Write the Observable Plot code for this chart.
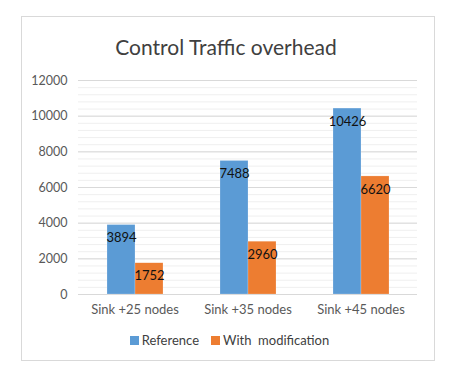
<!DOCTYPE html>
<html>
<head>
<meta charset="utf-8">
<script src="https://cdn.jsdelivr.net/npm/d3@7"></script>
<script src="https://cdn.jsdelivr.net/npm/@observablehq/plot@0.6"></script>
<style>
  body { margin: 0; background: #fff; font-family: Lato, "Open Sans", sans-serif; }
  #wrap { position: relative; width: 459px; height: 378px; }
  #frame { position: absolute; left: 21px; top: 16px; width: 412px; height: 343px; border: 1px solid #d9d9d9; }
  #title { position: absolute; left: 0; width: 452px; top: 32px; text-align: center; font-size: 21px; color: #404040; line-height: 30px; }
  #chart { position: absolute; left: 0; top: 66px; }
  #legend { position: absolute; left: 0; width: 459px; top: 331px; text-align: center; font-size: 13px; color: #404040; line-height: 18px; }
  #legend span.sw { display: inline-block; width: 9px; height: 9px; margin-right: 3px; vertical-align: 0px; }
  #legend span.item { margin: 0 6px; white-space: pre; }
</style>
</head>
<body>
<div id="wrap">
  <div id="frame"></div>
  <div id="title"></div>
  <div id="chart"></div>
  <div id="legend"></div>
</div>
<script>
const title = "Control Traffic overhead";
const categories = ["Sink +25 nodes", "Sink +35 nodes", "Sink +45 nodes"];
const seriesNames = ["Reference", "With  modification"];
const referenceValues = [3894, 7488, 10426];
const modificationValues = [1752, 2960, 6620];
const colors = ["#5B9BD5", "#ED7D31"];
const yTicks = [0, 2000, 4000, 6000, 8000, 10000, 12000];
const minorTicks = d3.range(0, 12001, 400);

const data = [];
categories.forEach((c, i) => {
  data.push({category: c, series: seriesNames[0], value: referenceValues[i]});
  data.push({category: c, series: seriesNames[1], value: modificationValues[i]});
});

document.getElementById("title").textContent = title;

const chart = Plot.plot({
  width: 459,
  height: 258,
  marginLeft: 77,
  marginRight: 41,
  marginTop: 14,
  marginBottom: 30,
  style: {fontFamily: "Lato, 'Open Sans', sans-serif", background: "transparent"},
  fx: {domain: categories, padding: 0, label: null, axis: null},
  x: {domain: seriesNames, paddingInner: 0, paddingOuter: 1, axis: null},
  y: {domain: [0, 12000], ticks: yTicks, label: null, grid: false},
  color: {domain: seriesNames, range: colors},
  marks: [
    Plot.ruleY(minorTicks, {stroke: "#efefef", strokeWidth: 1}),
    Plot.ruleY(yTicks, {stroke: "#d9d9d9", strokeWidth: 1}),
    Plot.axisY({ticks: yTicks, tickSize: 0, tickPadding: 11, fontSize: 12.5, color: "#595959", label: null, tickFormat: d => String(d)}),
    Plot.axisFx({anchor: "bottom", tickSize: 0, tickPadding: 10, fontSize: 13, color: "#595959", label: null}),
    Plot.barY(data, {fx: "category", x: "series", y: "value", fill: "series", stroke: "#ffffff", strokeOpacity: 0.4, strokeWidth: 0.5}),
    Plot.text(data, {fx: "category", x: "series", y: "value", text: d => String(d.value), dy: 13, fontSize: 13, fill: "#111111"})
  ]
});
document.getElementById("chart").appendChild(chart);

const legend = document.getElementById("legend");
seriesNames.forEach((s, i) => {
  const item = document.createElement("span");
  item.className = "item";
  const sw = document.createElement("span");
  sw.className = "sw";
  sw.style.background = colors[i];
  item.appendChild(sw);
  item.appendChild(document.createTextNode(s));
  legend.appendChild(item);
});
</script>
</body>
</html>
